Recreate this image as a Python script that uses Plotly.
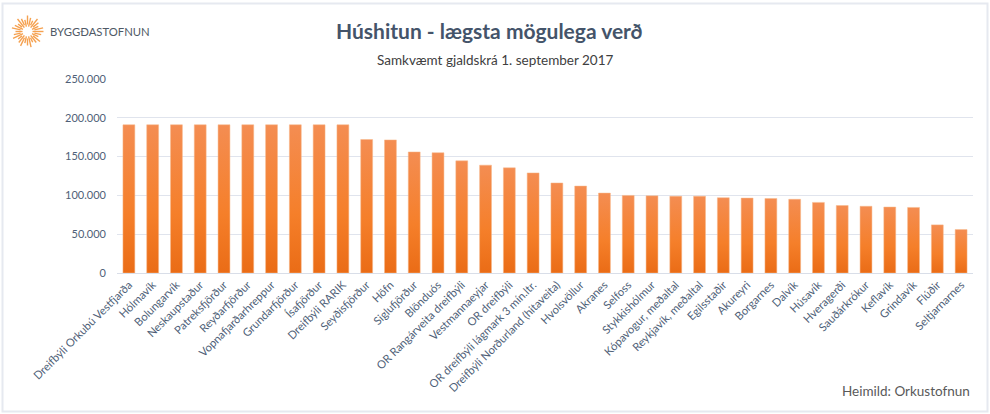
import math

import plotly.graph_objects as go

places = [
    'Dreifbýli Orkubú Vestfjarða', 'Hólmavík', 'Bolungarvík', 'Neskaupstaður', 'Patreksfjörður',
    'Reyðarfjörður', 'Vopnafjarðarhreppur', 'Grundarfjörður', 'Ísafjörður', 'Dreifbýli RARIK',
    'Seyðisfjörður', 'Höfn', 'Siglufjörður', 'Blönduós', 'OR Rangárveita dreifbýli',
    'Vestmannaeyjar', 'OR dreifbýli', 'OR dreifbýli lágmark 3 mín.ltr.',
    'Dreifbýli Norðurland (hitaveita)', 'Hvolsvöllur', 'Akranes', 'Selfoss', 'Stykkishólmur',
    'Kópavogur, meðaltal', 'Reykjavík, meðaltal', 'Egilsstaðir', 'Akureyri', 'Borgarnes', 'Dalvík',
    'Húsavík', 'Hveragerði', 'Sauðárkrókur', 'Keflavík', 'Grindavík', 'Flúðir', 'Seltjarnarnes',
]
cost = [
    191000, 191000, 191000, 191000, 191000, 191000, 191000, 191000, 191000, 191000,
    172000, 171500, 156000, 155000, 144500, 139000, 135500, 129000, 116000, 112000,
    103000, 100000, 99500, 99000, 99000, 97000, 96500, 96000, 95000, 91000,
    87000, 86000, 85000, 84500, 62000, 56000,
]
y_ticks = [0, 50000, 100000, 150000, 200000, 250000]
y_labels = ['0', '50.000', '100.000', '150.000', '200.000', '250.000']

W, H = 990, 414
LEFT, RIGHT, TOP, BOTTOM = 117, 17, 79, 141
FONT = 'Lato'


def px_x(x):
    return (x - LEFT) / (W - LEFT - RIGHT)


def px_y(y):
    return 1 - (y - TOP) / (H - TOP - BOTTOM)


def note(text, x, y, size, color, anchor='center', bold=False):
    return dict(text=f'<b>{text}</b>' if bold else text, x=px_x(x), y=px_y(y), xref='paper', yref='paper',
                xanchor=anchor, yanchor='middle', showarrow=False, font=dict(family=FONT, size=size, color=color))


# frame around the picture
shapes = [dict(type='rect', xref='paper', yref='paper', x0=px_x(2.5), x1=px_x(W - 2.5), y0=px_y(H - 2.5), y1=px_y(3.5),
               line=dict(color='#e6e9f0', width=2), layer='below')]

# logo sun
for i in range(28):
    a = 2 * math.pi * i / 28
    r0 = 5 + (i % 2) * 2
    r1 = 16 - (i % 3) * 2
    shapes.append(dict(type='line', xref='paper', yref='paper',
                       x0=px_x(27.5 + r0 * math.cos(a)), y0=px_y(31.5 + r0 * math.sin(a)),
                       x1=px_x(27.5 + r1 * math.cos(a)), y1=px_y(31.5 + r1 * math.sin(a)),
                       line=dict(color='#f5a150', width=1.4)))

fig = go.Figure(go.Bar(x=places, y=cost, marker=dict(color='#f07a24', line=dict(color='#f7b98a', width=0.5)), width=0.5))

fig.update_layout(
    width=W, height=H,
    margin=dict(l=LEFT, r=RIGHT, t=TOP, b=BOTTOM),
    paper_bgcolor='white', plot_bgcolor='white',
    showlegend=False,
    font=dict(family=FONT, size=12, color='#44546a'),
    shapes=shapes,
    annotations=[
        note('Húshitun - lægsta mögulega verð', 489, 30, 21, '#44546a', bold=True),
        note('Samkvæmt gjaldskrá 1. september 2017', 495, 60, 13.5, '#404040'),
        note('Heimild: Orkustofnun', 972, 391, 13.5, '#595959', anchor='right'),
        note('BYGGÐASTOFNUN', 48, 31, 11.3, '#4f5965', anchor='left'),
    ],
)
fig.update_xaxes(tickangle=-45, tickfont=dict(size=11.2, color='#4f5f78'), showline=True, linecolor='#d9dee8',
                 linewidth=1, ticks='', automargin=False, tickmode='array', tickvals=places, ticktext=places)
fig.update_yaxes(range=[0, 250000], tickmode='array', tickvals=y_ticks, ticktext=y_labels,
                 gridcolor='#e0e4ed', gridwidth=1, zeroline=False, ticks='', automargin=False,
                 tickfont=dict(size=11, color='#4f5f78'), ticklabelstandoff=10)

# Excel style gradient on each bar
post = """
document.body.style.margin = '0';
var svg = document.querySelector('.main-svg');
var ns = 'http://www.w3.org/2000/svg';
var grad = document.createElementNS(ns, 'linearGradient');
grad.setAttribute('id', 'bargrad');
grad.setAttribute('x1', '0'); grad.setAttribute('y1', '0');
grad.setAttribute('x2', '0'); grad.setAttribute('y2', '1');
[['0', '#f48d52'], ['0.6', '#f57f2a'], ['1', '#ea6c16']].forEach(function (s) {
    var stop = document.createElementNS(ns, 'stop');
    stop.setAttribute('offset', s[0]);
    stop.setAttribute('stop-color', s[1]);
    grad.appendChild(stop);
});
svg.querySelector('defs').appendChild(grad);
document.querySelectorAll('.bars .point path').forEach(function (p) {
    p.style.fill = 'url(#bargrad)';
});
"""

fig.write_html('out.html', post_script=post, config=dict(displayModeBar=False))
